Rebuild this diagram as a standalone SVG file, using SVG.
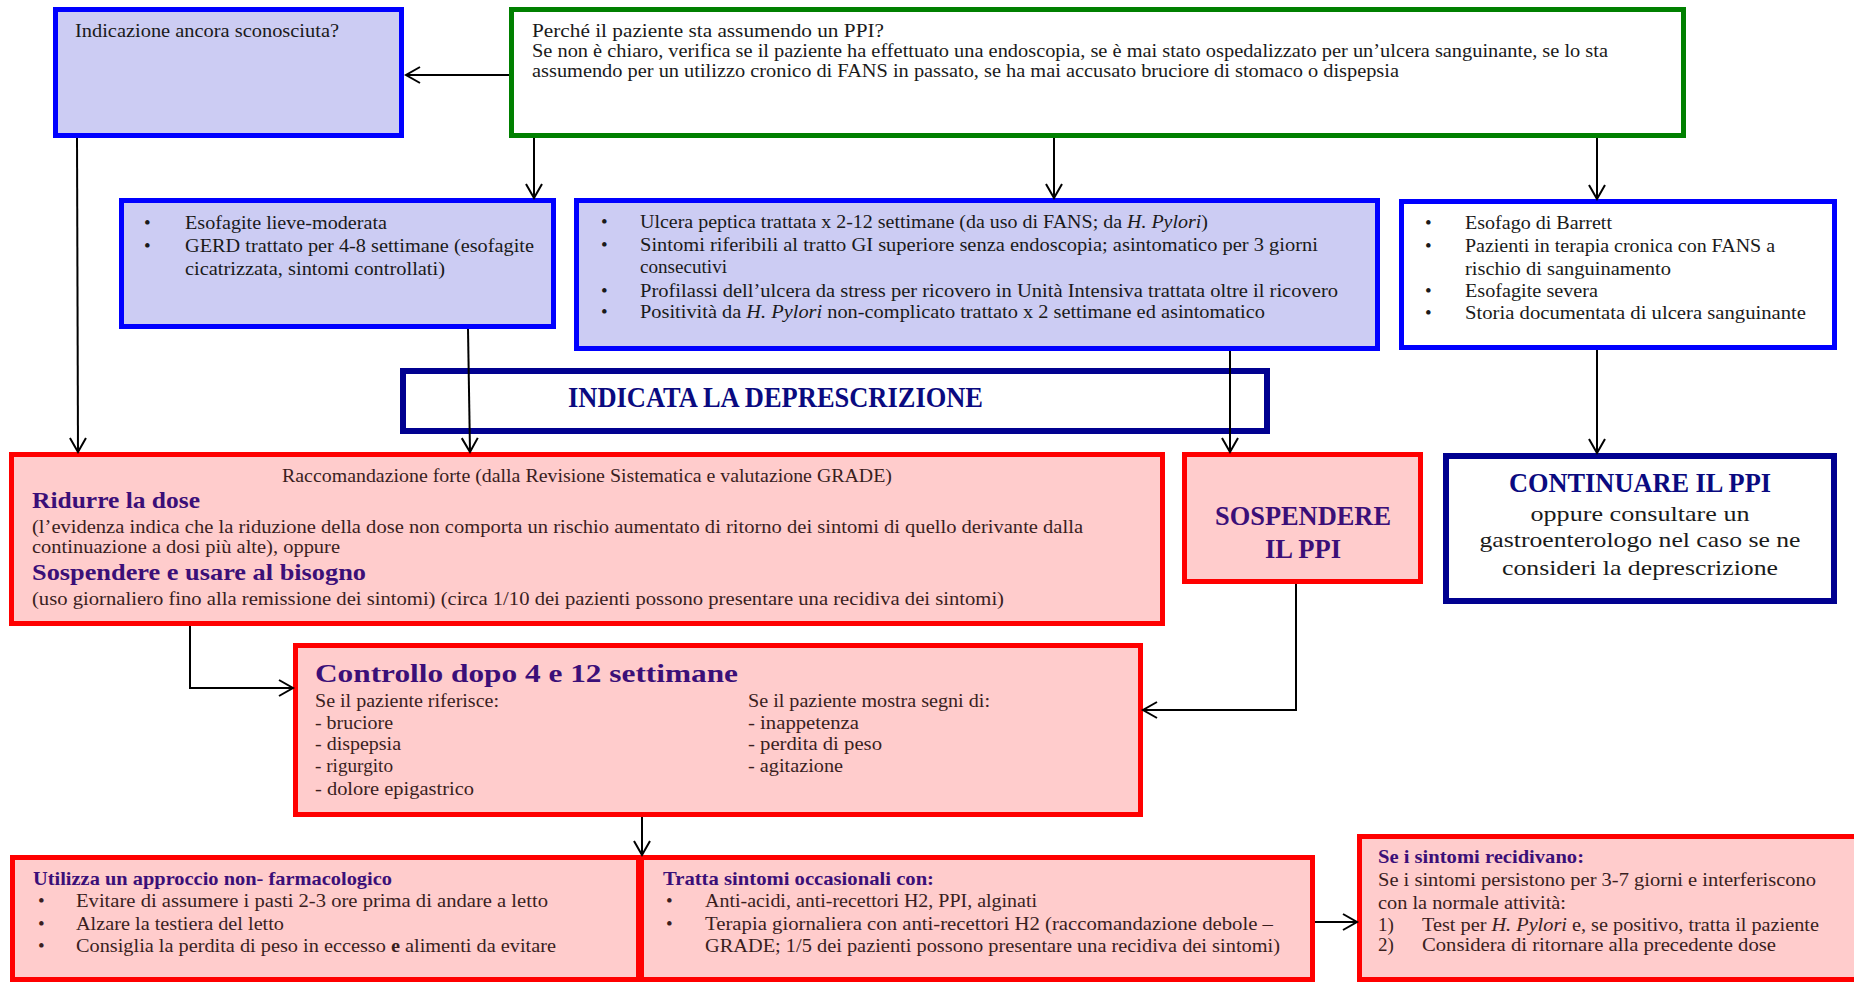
<svg xmlns="http://www.w3.org/2000/svg" width="1854" height="983" viewBox="0 0 1854 983">
<style>
text { font-family: "Liberation Serif", "DejaVu Serif", serif; }
.bg { fill: #ffffff; }
.blue { fill: #ccccf3; stroke: #0000ff; stroke-width: 5; }
.bluew { fill: #ffffff; stroke: #0000ff; stroke-width: 5; }
.green { fill: #ffffff; stroke: #008000; stroke-width: 5; }
.navy { fill: #ffffff; stroke: #000090; stroke-width: 6; }
.red { fill: #ffcccc; stroke: #ff0000; stroke-width: 5; }
.t { font-size: 19px; fill: #1a1a1a; }
.tr { font-size: 19px; fill: #3a1e1e; }
.h { font-weight: bold; fill: #3b0f78; }
.nv { font-weight: bold; fill: #0a0a80; }
.c { font-size: 22px; fill: #1a1a1a; text-anchor: middle; }
.conn line, .conn polyline { stroke: #000; stroke-width: 2; fill: none; marker-end: url(#arr); }
</style>
<defs>
<marker id="arr" markerUnits="userSpaceOnUse" markerWidth="18" markerHeight="20" refX="15" refY="9" orient="auto">
<path d="M1,1 L15,9 L1,17" fill="none" stroke="#000" stroke-width="2"/>
</marker>
</defs>
<rect class="bg" x="0" y="0" width="1854" height="983"/>

<g id="unknown">
<rect class="blue" x="55.5" y="9.5" width="346" height="126"/>
<text class="t" x="75" y="37" textLength="264" lengthAdjust="spacingAndGlyphs">Indicazione ancora sconosciuta?</text>
</g>

<g id="why">
<rect class="green" x="511.5" y="9.5" width="1172" height="126"/>
<text class="t" x="532" y="37" textLength="352" lengthAdjust="spacingAndGlyphs">Perché il paziente sta assumendo un PPI?</text>
<text class="t" x="532" y="57" textLength="1076" lengthAdjust="spacingAndGlyphs">Se non è chiaro, verifica se il paziente ha effettuato una endoscopia, se è mai stato ospedalizzato per un’ulcera sanguinante, se lo sta</text>
<text class="t" x="532" y="77" textLength="867" lengthAdjust="spacingAndGlyphs">assumendo per un utilizzo cronico di FANS in passato, se ha mai accusato bruciore di stomaco o dispepsia</text>
</g>

<g id="esofagite">
<rect class="blue" x="121.5" y="200.5" width="432" height="126"/>
<text class="t" x="144" y="229">•</text>
<text class="t" x="185" y="229" textLength="202" lengthAdjust="spacingAndGlyphs">Esofagite lieve-moderata</text>
<text class="t" x="144" y="252">•</text>
<text class="t" x="185" y="252" textLength="349" lengthAdjust="spacingAndGlyphs">GERD trattato per 4-8 settimane (esofagite</text>
<text class="t" x="185" y="275" textLength="260" lengthAdjust="spacingAndGlyphs">cicatrizzata, sintomi controllati)</text>
</g>

<g id="ulcera">
<rect class="blue" x="576.5" y="200.5" width="801" height="148"/>
<text class="t" x="601" y="228">•</text>
<text class="t" x="640" y="228" textLength="568" lengthAdjust="spacingAndGlyphs">Ulcera peptica trattata x 2-12 settimane (da uso di FANS; da <tspan font-style="italic">H. Pylori</tspan>)</text>
<text class="t" x="601" y="251">•</text>
<text class="t" x="640" y="251" textLength="678" lengthAdjust="spacingAndGlyphs">Sintomi riferibili al tratto GI superiore senza endoscopia; asintomatico per 3 giorni</text>
<text class="t" x="640" y="273" textLength="87" lengthAdjust="spacingAndGlyphs">consecutivi</text>
<text class="t" x="601" y="297">•</text>
<text class="t" x="640" y="297" textLength="698" lengthAdjust="spacingAndGlyphs">Profilassi dell’ulcera da stress per ricovero in Unità Intensiva trattata oltre il ricovero</text>
<text class="t" x="601" y="318">•</text>
<text class="t" x="640" y="318" textLength="625" lengthAdjust="spacingAndGlyphs">Positività da <tspan font-style="italic">H. Pylori</tspan> non-complicato trattato x 2 settimane ed asintomatico</text>
</g>

<g id="barrett">
<rect class="bluew" x="1401.5" y="201.5" width="433" height="146"/>
<text class="t" x="1425" y="229">•</text>
<text class="t" x="1465" y="229" textLength="147" lengthAdjust="spacingAndGlyphs">Esofago di Barrett</text>
<text class="t" x="1425" y="252">•</text>
<text class="t" x="1465" y="252" textLength="310" lengthAdjust="spacingAndGlyphs">Pazienti in terapia cronica con FANS a</text>
<text class="t" x="1465" y="275" textLength="206" lengthAdjust="spacingAndGlyphs">rischio di sanguinamento</text>
<text class="t" x="1425" y="297">•</text>
<text class="t" x="1465" y="297" textLength="133" lengthAdjust="spacingAndGlyphs">Esofagite severa</text>
<text class="t" x="1425" y="319">•</text>
<text class="t" x="1465" y="319" textLength="341" lengthAdjust="spacingAndGlyphs">Storia documentata di ulcera sanguinante</text>
</g>

<g id="indicata">
<rect class="navy" x="403" y="371" width="864" height="60"/>
<text class="nv" x="568" y="407" font-size="29" textLength="415" lengthAdjust="spacingAndGlyphs">INDICATA LA DEPRESCRIZIONE</text>
</g>

<g id="ridurre">
<rect class="red" x="11.5" y="454.5" width="1151" height="169"/>
<text class="tr" x="282" y="482" font-size="18" textLength="610" lengthAdjust="spacingAndGlyphs">Raccomandazione forte (dalla Revisione Sistematica e valutazione GRADE)</text>
<text class="h" x="32" y="508" font-size="23" textLength="168" lengthAdjust="spacingAndGlyphs">Ridurre la dose</text>
<text class="tr" x="32" y="533" textLength="1051" lengthAdjust="spacingAndGlyphs">(l’evidenza indica che la riduzione della dose non comporta un rischio aumentato di ritorno dei sintomi di quello derivante dalla</text>
<text class="tr" x="32" y="553" textLength="308" lengthAdjust="spacingAndGlyphs">continuazione a dosi più alte), oppure</text>
<text class="h" x="32" y="580" font-size="23" textLength="334" lengthAdjust="spacingAndGlyphs">Sospendere e usare al bisogno</text>
<text class="tr" x="32" y="605" textLength="972" lengthAdjust="spacingAndGlyphs">(uso giornaliero fino alla remissione dei sintomi) (circa 1/10 dei pazienti possono presentare una recidiva dei sintomi)</text>
</g>

<g id="sospendere">
<rect class="red" x="1184.5" y="454.5" width="236" height="127"/>
<text class="h" x="1303" y="525" font-size="27" text-anchor="middle" textLength="176" lengthAdjust="spacingAndGlyphs">SOSPENDERE</text>
<text class="h" x="1303" y="558" font-size="27" text-anchor="middle" textLength="76" lengthAdjust="spacingAndGlyphs">IL PPI</text>
</g>

<g id="continuare">
<rect class="navy" x="1446" y="456" width="388" height="145"/>
<text class="nv" x="1640" y="492" font-size="27" text-anchor="middle" textLength="262" lengthAdjust="spacingAndGlyphs">CONTINUARE IL PPI</text>
<text class="c" x="1640" y="521" textLength="219" lengthAdjust="spacingAndGlyphs">oppure consultare un</text>
<text class="c" x="1640" y="547" textLength="321" lengthAdjust="spacingAndGlyphs">gastroenterologo nel caso se ne</text>
<text class="c" x="1640" y="575" textLength="276" lengthAdjust="spacingAndGlyphs">consideri la deprescrizione</text>
</g>

<g id="controllo">
<rect class="red" x="295.5" y="645.5" width="845" height="169"/>
<text class="h" x="315" y="682" font-size="26" textLength="423" lengthAdjust="spacingAndGlyphs">Controllo dopo 4 e 12 settimane</text>
<text class="tr" x="315" y="707" textLength="184" lengthAdjust="spacingAndGlyphs">Se il paziente riferisce:</text>
<text class="tr" x="315" y="729" textLength="78" lengthAdjust="spacingAndGlyphs">- bruciore</text>
<text class="tr" x="315" y="750" textLength="86" lengthAdjust="spacingAndGlyphs">- dispepsia</text>
<text class="tr" x="315" y="772" textLength="78" lengthAdjust="spacingAndGlyphs">- rigurgito</text>
<text class="tr" x="315" y="795" textLength="159" lengthAdjust="spacingAndGlyphs">- dolore epigastrico</text>
<text class="tr" x="748" y="707" textLength="242" lengthAdjust="spacingAndGlyphs">Se il paziente mostra segni di:</text>
<text class="tr" x="748" y="729" textLength="111" lengthAdjust="spacingAndGlyphs">- inappetenza</text>
<text class="tr" x="748" y="750" textLength="134" lengthAdjust="spacingAndGlyphs">- perdita di peso</text>
<text class="tr" x="748" y="772" textLength="95" lengthAdjust="spacingAndGlyphs">- agitazione</text>
</g>

<g id="nonfarm">
<rect class="red" x="12.5" y="857.5" width="626" height="122"/>
<text class="h" x="33" y="885" font-size="19" textLength="359" lengthAdjust="spacingAndGlyphs">Utilizza un approccio non- farmacologico</text>
<text class="tr" x="38" y="907">•</text>
<text class="tr" x="76" y="907" textLength="472" lengthAdjust="spacingAndGlyphs">Evitare di assumere i pasti 2-3 ore prima di andare a letto</text>
<text class="tr" x="38" y="930">•</text>
<text class="tr" x="76" y="930" textLength="208" lengthAdjust="spacingAndGlyphs">Alzare la testiera del letto</text>
<text class="tr" x="38" y="952">•</text>
<text class="tr" x="76" y="952" textLength="480" lengthAdjust="spacingAndGlyphs">Consiglia la perdita di peso in eccesso <tspan font-weight="bold">e</tspan> alimenti da evitare</text>
</g>

<g id="tratta">
<rect class="red" x="641.5" y="857.5" width="671" height="122"/>
<text class="h" x="663" y="885" font-size="19" textLength="271" lengthAdjust="spacingAndGlyphs">Tratta sintomi occasionali con:</text>
<text class="tr" x="666" y="907">•</text>
<text class="tr" x="705" y="907" textLength="332" lengthAdjust="spacingAndGlyphs">Anti-acidi, anti-recettori H2, PPI, alginati</text>
<text class="tr" x="666" y="930">•</text>
<text class="tr" x="705" y="930" textLength="568" lengthAdjust="spacingAndGlyphs">Terapia giornaliera con anti-recettori H2 (raccomandazione debole –</text>
<text class="tr" x="705" y="952" textLength="575" lengthAdjust="spacingAndGlyphs">GRADE; 1/5 dei pazienti possono presentare una recidiva dei sintomi)</text>
</g>

<g id="recidiva">
<rect class="red" x="1359.5" y="836.5" width="520" height="143"/>
<text class="h" x="1378" y="863" font-size="19" textLength="206" lengthAdjust="spacingAndGlyphs">Se i sintomi recidivano:</text>
<text class="tr" x="1378" y="886" textLength="438" lengthAdjust="spacingAndGlyphs">Se i sintomi persistono per 3-7 giorni e interferiscono</text>
<text class="tr" x="1378" y="909" textLength="188" lengthAdjust="spacingAndGlyphs">con la normale attività:</text>
<text class="tr" x="1378" y="931">1)</text>
<text class="tr" x="1422" y="931" textLength="397" lengthAdjust="spacingAndGlyphs">Test per <tspan font-style="italic">H. Pylori</tspan>  e, se positivo, tratta il paziente</text>
<text class="tr" x="1378" y="951">2)</text>
<text class="tr" x="1422" y="951" textLength="354" lengthAdjust="spacingAndGlyphs">Considera di ritornare alla precedente dose</text>
</g>

<g id="connectors" class="conn">
<line x1="509" y1="75" x2="406" y2="75"/>
<line x1="534" y1="138" x2="534" y2="198"/>
<line x1="1054" y1="138" x2="1054" y2="198"/>
<line x1="1597" y1="138" x2="1597" y2="199"/>
<line x1="77" y1="138" x2="78" y2="452"/>
<line x1="468" y1="329" x2="470" y2="452"/>
<line x1="1230" y1="351" x2="1230" y2="452"/>
<line x1="1597" y1="350" x2="1597" y2="453"/>
<polyline points="190,626 190,688 293,688"/>
<polyline points="1296,584 1296,710 1143,710"/>
<line x1="642" y1="817" x2="642" y2="855"/>
<line x1="1315" y1="922" x2="1357" y2="922"/>
</g>
</svg>
